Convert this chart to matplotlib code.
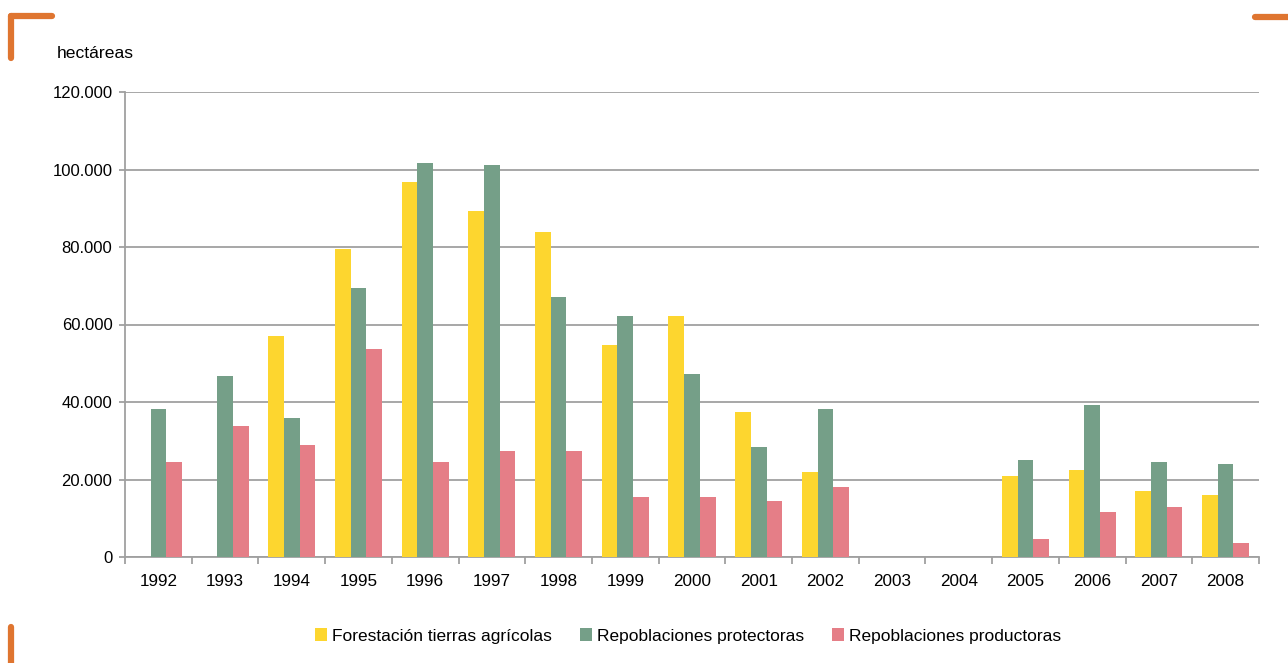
import matplotlib
matplotlib.use("Agg")
import matplotlib.pyplot as plt
import numpy as np
from matplotlib.lines import Line2D
from matplotlib.ticker import FuncFormatter, FixedLocator

plt.rcParams['font.family'] = ['Liberation Sans', 'DejaVu Sans']

years = ["1992", "1993", "1994", "1995", "1996", "1997", "1998", "1999", "2000",
         "2001", "2002", "2003", "2004", "2005", "2006", "2007", "2008"]
forestacion = [0, 0, 57000, 79500, 96800, 89300, 83900, 54700, 62200,
               37400, 21900, 0, 0, 20900, 22400, 17000, 16000]
protectoras = [38200, 46700, 35900, 69400, 101700, 101200, 67100, 62200, 47200,
               28400, 38200, 0, 0, 25000, 39200, 24500, 24000]
productoras = [24500, 33800, 28900, 53700, 24500, 27400, 27400, 15500, 15500,
               14400, 18100, 0, 0, 4600, 11600, 12900, 3600]
series_names = ["Forestación tierras agrícolas", "Repoblaciones protectoras",
                "Repoblaciones productoras"]
colors = ["#FDD62F", "#759F88", "#E57E87"]

W, H = 1288, 663
fig = plt.figure(figsize=(W / 100, H / 100), dpi=100)
ax = fig.add_axes([125 / W, 1 - 557 / H, (1259 - 125) / W, (557 - 92) / H])

x = np.arange(len(years))
bw = 0.235
for i, (vals, name, c) in enumerate(zip([forestacion, protectoras, productoras],
                                        series_names, colors)):
    ax.bar(x + (i - 1) * bw, vals, width=bw, color=c, label=name, zorder=3)

ax.set_xlim(-0.5, len(years) - 0.5)
ax.set_ylim(0, 120000)
ax.set_yticks(np.arange(0, 120001, 20000))
ax.yaxis.set_major_formatter(FuncFormatter(lambda v, p: "0" if v == 0 else f"{int(v):,}".replace(",", ".")))
ax.grid(axis="y", color="#A0A0A0", linewidth=1.3, zorder=0)

ax.set_xticks(x)
ax.set_xticklabels(years)
ax.xaxis.set_minor_locator(FixedLocator(np.arange(-0.5, len(years), 1.0)))
ax.tick_params(axis="x", which="major", length=0, pad=12, labelsize=12.3)
ax.tick_params(axis="x", which="minor", length=5, width=1.3, color="#A0A0A0")
ax.tick_params(axis="y", length=4, width=1.3, color="#A0A0A0", pad=5, labelsize=12)

for s in ["top", "right"]:
    ax.spines[s].set_visible(False)
for s in ["left", "bottom"]:
    ax.spines[s].set_color("#A0A0A0")
    ax.spines[s].set_linewidth(1.3)

fig.text(57 / W, 1 - 53 / H, "hectáreas", fontsize=12.6, va="center", ha="left")

leg = fig.legend(loc="center", bbox_to_anchor=(688 / W, 1 - 636 / H), ncol=3,
                 frameon=False, fontsize=12.5, handlelength=0.7, handleheight=0.7,
                 handletextpad=0.3, columnspacing=1.6)

orange = "#DF7530"
lw = 4.5
def fl(x0, y0, x1, y1):
    fig.add_artist(Line2D([x0 / W, x1 / W], [1 - y0 / H, 1 - y1 / H], color=orange,
                          linewidth=lw, solid_capstyle="round", transform=fig.transFigure))
fl(11, 58, 11, 16)
fl(11, 16, 52, 16)
fl(1255, 17, 1290, 17)
fl(11, 627, 11, 670)

fig.savefig("out.png", dpi=100)
